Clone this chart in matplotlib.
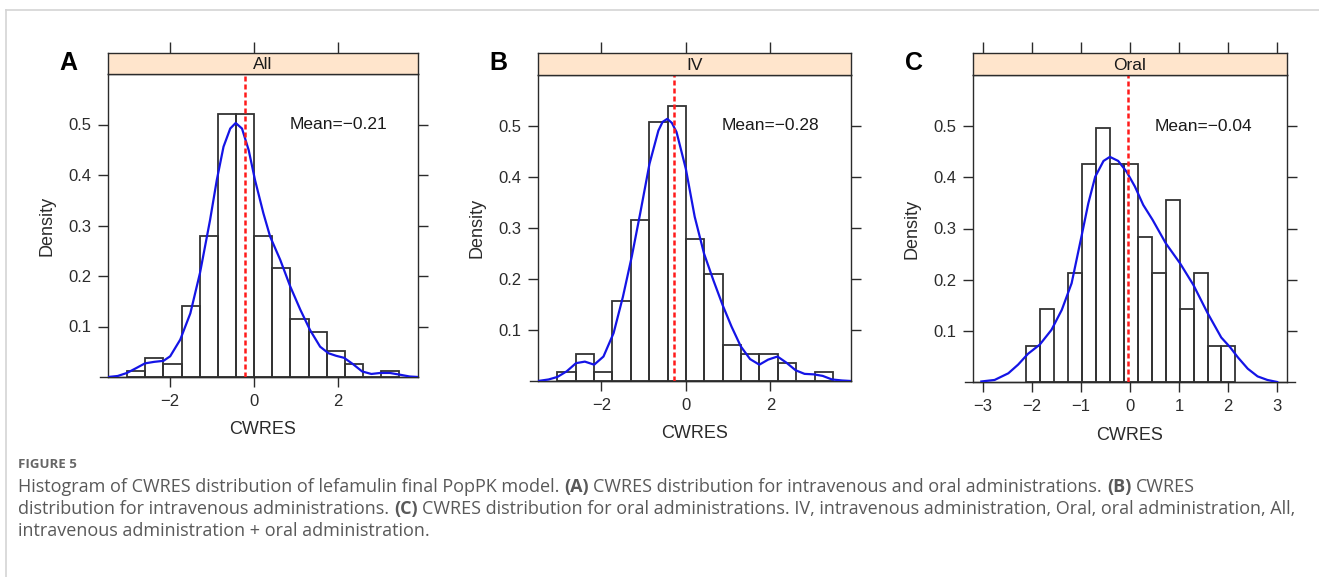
import numpy as np
import matplotlib
matplotlib.use("Agg")
import matplotlib.pyplot as plt
from matplotlib.lines import Line2D

# ---------------------------------------------------------------
# Dados (densidade dos histogramas de CWRES)
# ---------------------------------------------------------------

# Painel A - All
bordas_a = [-3.03, -2.60, -2.16, -1.73, -1.30, -0.87, -0.43, 0.0, 0.43, 0.86,
            1.30, 1.73, 2.16, 2.59, 3.02, 3.45]
dens_a = [0.0127, 0.038, 0.025, 0.14, 0.279, 0.52, 0.52, 0.279, 0.216, 0.114,
          0.089, 0.051, 0.025, 0.0, 0.0127]
curva_a_x = [-3.48, -3.25, -3.03, -2.80, -2.60, -2.38, -2.16, -2.00, -1.76, -1.52,
             -1.29, -1.05, -0.89, -0.73, -0.57, -0.44, -0.29, -0.13, 0.02, 0.22,
             0.38, 0.62, 0.86, 1.10, 1.33, 1.57, 1.77, 1.95, 2.14, 2.36,
             2.57, 2.79, 3.00, 3.23, 3.44, 3.70, 3.90]
curva_a_y = [0.0, 0.002, 0.008, 0.018, 0.027, 0.030, 0.032, 0.041, 0.074, 0.126,
             0.206, 0.311, 0.390, 0.456, 0.492, 0.503, 0.492, 0.449, 0.390, 0.324,
             0.278, 0.232, 0.179, 0.133, 0.093, 0.060, 0.047, 0.042, 0.038, 0.025,
             0.011, 0.006, 0.008, 0.008, 0.005, 0.001, 0.0]
media_a = -0.21

# Painel B - IV
bordas_b = [-3.04, -2.61, -2.17, -1.74, -1.30, -0.87, -0.43, 0.0, 0.44, 0.87,
            1.31, 1.74, 2.18, 2.61, 3.05, 3.48]
dens_b = [0.0174, 0.052, 0.0174, 0.157, 0.315, 0.507, 0.540, 0.278, 0.209, 0.070,
          0.052, 0.052, 0.035, 0.0, 0.0174]
curva_b_x = [-3.50, -3.25, -3.04, -2.82, -2.60, -2.39, -2.17, -1.95, -1.71, -1.49,
             -1.28, -1.08, -0.86, -0.65, -0.55, -0.44, -0.33, -0.22, 0.0, 0.21,
             0.43, 0.65, 0.87, 1.08, 1.30, 1.52, 1.74, 1.95, 2.17, 2.38,
             2.60, 2.81, 3.03, 3.24, 3.46, 3.70, 3.91]
curva_b_y = [0.0, 0.003, 0.008, 0.019, 0.035, 0.038, 0.032, 0.048, 0.094, 0.165,
             0.244, 0.329, 0.426, 0.491, 0.508, 0.514, 0.506, 0.488, 0.416, 0.322,
             0.250, 0.198, 0.149, 0.107, 0.068, 0.043, 0.032, 0.042, 0.048, 0.036,
             0.021, 0.014, 0.013, 0.010, 0.003, 0.001, 0.0]
media_b = -0.28

# Painel C - Oral
bordas_c = [-2.11, -1.83, -1.54, -1.26, -0.98, -0.69, -0.41, -0.12, 0.16, 0.45,
            0.73, 1.01, 1.30, 1.58, 1.86, 2.15]
dens_c = [0.071, 0.142, 0.0, 0.213, 0.426, 0.497, 0.426, 0.426, 0.284, 0.213,
          0.355, 0.142, 0.213, 0.071, 0.071]
curva_c_x = [-3.03, -2.76, -2.48, -2.28, -2.08, -1.84, -1.60, -1.39, -1.19, -0.99,
             -0.85, -0.71, -0.54, -0.41, -0.24, -0.07, 0.10, 0.27, 0.46, 0.73,
             1.02, 1.29, 1.58, 1.86, 2.04, 2.20, 2.40, 2.60, 2.80, 3.00]
curva_c_y = [0.001, 0.004, 0.017, 0.034, 0.055, 0.073, 0.102, 0.141, 0.193, 0.284,
             0.349, 0.401, 0.432, 0.440, 0.432, 0.411, 0.382, 0.346, 0.317, 0.271,
             0.232, 0.190, 0.135, 0.087, 0.068, 0.048, 0.026, 0.011, 0.004, 0.0]
media_c = -0.04

titulos = ["All", "IV", "Oral"]
letras = ["A", "B", "C"]
textos_media = ["Mean=\u22120.21", "Mean=\u22120.28", "Mean=\u22120.04"]
ticks_x = [[-2, 0, 2], [-2, 0, 2], [-3, -2, -1, 0, 1, 2, 3]]
ticks_y = [0.1, 0.2, 0.3, 0.4, 0.5]

# ---------------------------------------------------------------
# Layout (pixels da figura original 1319 x 577)
# ---------------------------------------------------------------
W, H = 1319, 577
plt.rcParams["font.family"] = ["Liberation Sans", "DejaVu Sans"]
COR = "#2b2b2b"

fig = plt.figure(figsize=(W / 100, H / 100), dpi=100)
fig.patch.set_facecolor("white")


def caixa(l, t, r, b):
    return [l / W, 1 - b / H, (r - l) / W, (b - t) / H]


paineis = [
    dict(plot=(108, 74, 418, 377), strip=(108, 53, 418, 74), xlim=(-3.48, 3.90),
         bordas=bordas_a, dens=dens_a, cx=curva_a_x, cy=curva_a_y, media=media_a,
         pos_txt=(2.0, 0.5), ext_dir=False),
    dict(plot=(538, 75, 851, 381), strip=(538, 53, 851, 75), xlim=(-3.50, 3.91),
         bordas=bordas_b, dens=dens_b, cx=curva_b_x, cy=curva_b_y, media=media_b,
         pos_txt=(2.0, 0.5), ext_dir=False),
    dict(plot=(973, 75, 1287, 382), strip=(973, 53, 1287, 75), xlim=(-3.2, 3.2),
         bordas=bordas_c, dens=dens_c, cx=curva_c_x, cy=curva_c_y, media=media_c,
         pos_txt=(1.5, 0.5), ext_dir=True),
]

for i, p in enumerate(paineis):
    l, t, r, b = p["plot"]
    ax = fig.add_axes(caixa(*p["plot"]))
    ax.set_xlim(*p["xlim"])
    ax.set_ylim(0, 0.6)

    bordas = np.array(p["bordas"])
    ax.bar(bordas[:-1], p["dens"], width=np.diff(bordas), align="edge",
           facecolor="none", edgecolor="#333333", linewidth=1.3, zorder=2)
    ax.plot(p["cx"], p["cy"], color="#1414e6", linewidth=1.6, zorder=3,
            solid_joinstyle="round")
    ax.axvline(p["media"], color="#ff1a1a", linewidth=1.8,
               linestyle=(0, (2.0, 1.2)), zorder=4)
    ax.text(p["pos_txt"][0], p["pos_txt"][1], textos_media[i], ha="center",
            va="center", fontsize=12.5, color="#1a1a1a")

    ax.set_xticks(ticks_x[i])
    ax.set_xticklabels([f"{v}".replace("-", "\u2212") for v in ticks_x[i]])
    ax.set_yticks(ticks_y)
    ax.set_yticklabels([f"{v:.1f}" for v in ticks_y])
    ax.tick_params(axis="x", bottom=True, top=False, direction="out", length=7,
                   width=1, color=COR, labelsize=12, labelcolor=COR, pad=5)
    ax.tick_params(axis="y", left=True, right=True, labelleft=True,
                   labelright=False, direction="out", length=7, width=1,
                   color=COR, labelsize=12, labelcolor=COR, pad=5)
    for s in ax.spines.values():
        s.set_color(COR)
        s.set_linewidth(1.0)

    # linha de base um pouco mais longa que o painel
    w_px = r - l
    x1 = 1 + 8 / w_px if p["ext_dir"] else 1
    ax.add_line(Line2D([-8 / w_px, x1], [0, 0], transform=ax.transAxes,
                       color=COR, linewidth=1.0, clip_on=False))

    # faixa com o título do painel (estilo lattice)
    axs = fig.add_axes(caixa(*p["strip"]))
    axs.set_facecolor("#ffe5cc")
    axs.set_xlim(*p["xlim"])
    axs.set_xticks(ticks_x[i])
    axs.set_yticks([])
    axs.tick_params(axis="x", top=True, bottom=False, labeltop=False,
                    labelbottom=False, direction="out", length=8, width=1,
                    color=COR)
    for s in axs.spines.values():
        s.set_color(COR)
        s.set_linewidth(1.0)
    axs.text(0.5, 0.45, titulos[i], transform=axs.transAxes, ha="center",
             va="center", fontsize=12.5, color="#1a1a1a")

    # rótulos dos eixos e letra do painel
    cx = (l + r) / 2
    cy = (t + b) / 2
    fig.text(cx / W, 1 - (b + 53) / H, "CWRES", ha="center", va="center",
             fontsize=13, color=COR)
    fig.text((l - 61) / W, 1 - cy / H, "Density", rotation=90, ha="center",
             va="center", fontsize=13, color=COR)
    fig.text((l - 40 - (i == 2) * 19) / W, 1 - 63 / H, letras[i], ha="center",
             va="center", fontsize=18, fontweight="bold", color="black")

# moldura cinza clara (topo e esquerda)
fig.add_artist(Line2D([6 / W, 1], [1 - 10 / H, 1 - 10 / H], transform=fig.transFigure,
                      color="#d4d4d4", linewidth=1.2))
fig.add_artist(Line2D([6 / W, 6 / W], [0, 1 - 10 / H], transform=fig.transFigure,
                      color="#d4d4d4", linewidth=1.2))

# ---------------------------------------------------------------
# Legenda da figura
# ---------------------------------------------------------------
FONTE_LEG = ["Open Sans", "DejaVu Sans"]
COR_LEG = "#595959"
linhas = [
    [("Histogram of CWRES distribution of lefamulin final PopPK model.", False),
     ("(A)", True),
     ("CWRES distribution for intravenous and oral administrations.", False),
     ("(B)", True), ("CWRES", False)],
    [("distribution for intravenous administrations.", False), ("(C)", True),
     ("CWRES distribution for oral administrations. IV, intravenous administration, "
      "Oral, oral administration, All,", False)],
    [("intravenous administration + oral administration.", False)],
]
larg_alvo = [1272, 1282]

renderer = fig.canvas.get_renderer()


def largura(txt, peso, tam):
    t = fig.text(0, 0, txt, fontsize=tam, family=FONTE_LEG, fontweight=peso)
    wdt = t.get_window_extent(renderer).width
    t.remove()
    return wdt


def largura_linha(segs, tam):
    esp = largura("a a", "normal", tam) - largura("aa", "normal", tam)
    tot = sum(largura(s, "bold" if bd else "normal", tam) for s, bd in segs)
    return tot + esp * (len(segs) - 1)


tam0 = 10.0
tam = min(tam0 * alvo / largura_linha(segs, tam0)
          for segs, alvo in zip(linhas[:2], larg_alvo))

fig.text(18 / W, 1 - 464 / H, "FIGURE 5", fontsize=9.5, family=FONTE_LEG,
         fontweight="bold", color="#666666", va="center")

ys = [487, 509, 531]
for segs, yy in zip(linhas, ys):
    esp = largura("a a", "normal", tam) - largura("aa", "normal", tam)
    x = 18
    for s, bd in segs:
        peso = "bold" if bd else "normal"
        fig.text(x / W, 1 - yy / H, s, fontsize=tam, family=FONTE_LEG,
                 fontweight=peso, color=COR_LEG, va="center")
        x += largura(s, peso, tam) + esp

fig.savefig("out.png", dpi=100)
